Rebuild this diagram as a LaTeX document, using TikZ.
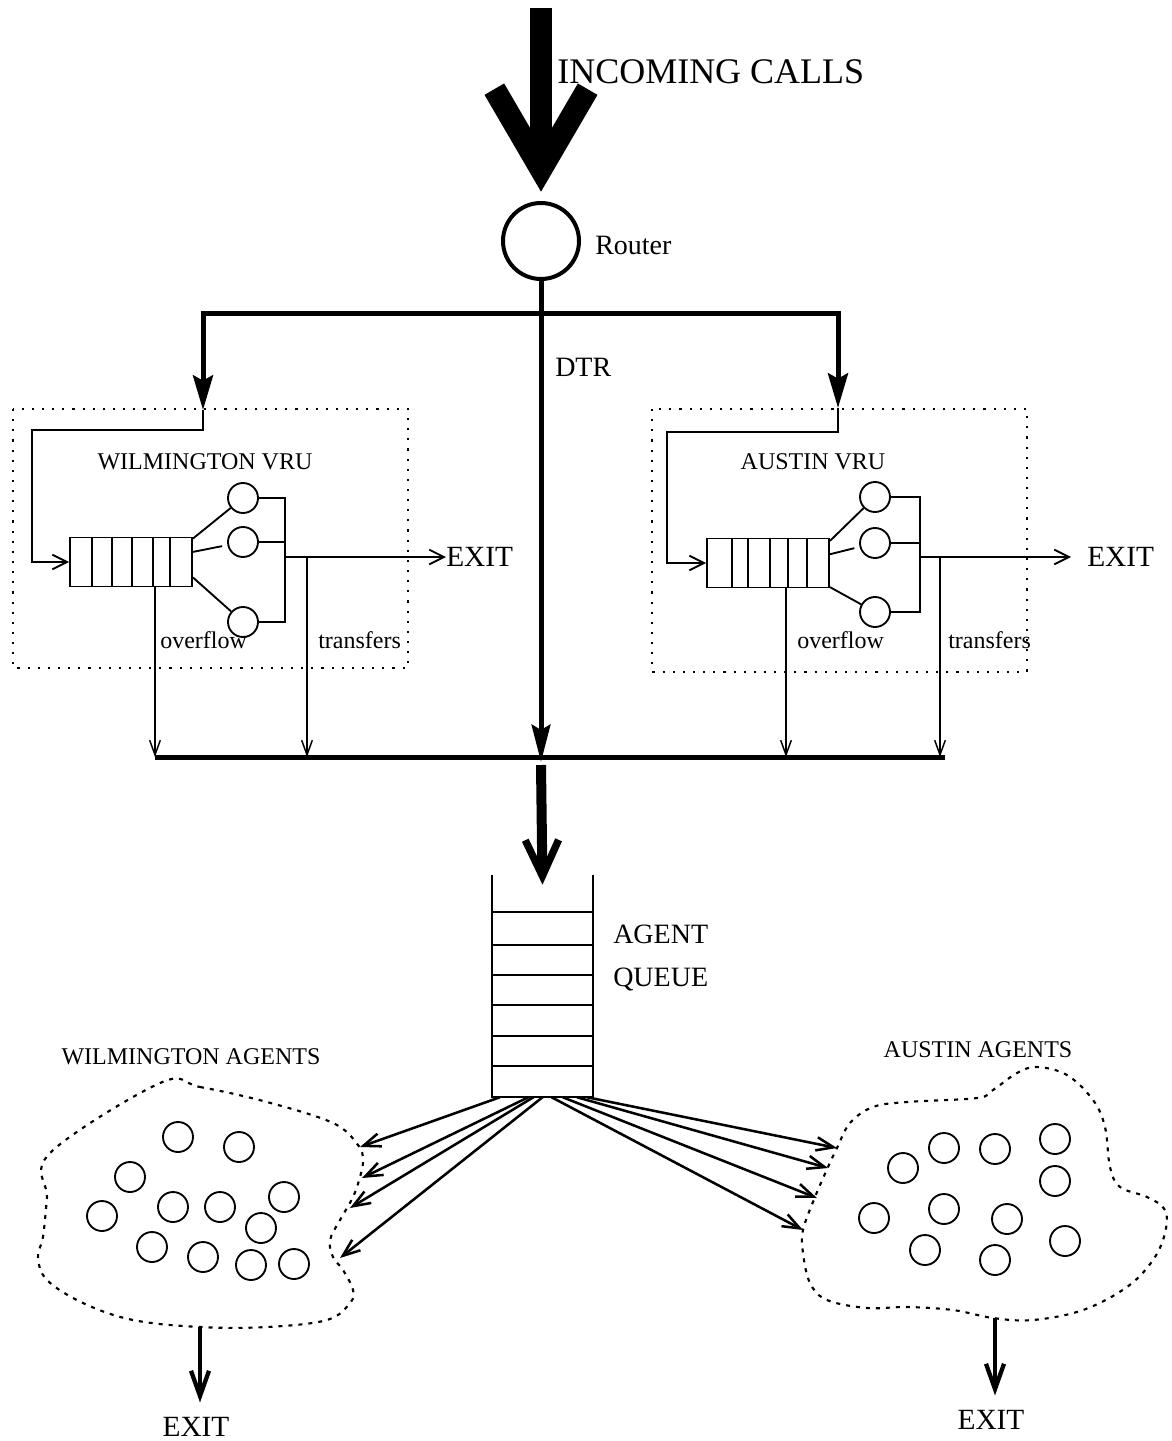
\documentclass[tikz,border=0pt]{standalone}
\usepackage{fontspec}
\setmainfont{Liberation Serif}
\usetikzlibrary{arrows.meta,calc,positioning}

\begin{document}
\begin{tikzpicture}[x=0.75pt,y=0.75pt,yscale=-1,
    thinline/.style={line width=1.4pt},
    heavy/.style={line width=3.75pt},
    server/.style={circle,draw,line width=1.4pt,minimum size=22.5pt,inner sep=0pt},
    agent/.style={circle,draw,line width=1.4pt,minimum size=22.5pt,inner sep=0pt},
    vruqueue/.style={rectangle,draw,line width=1.4pt,minimum width=91.5pt,minimum height=36.75pt,inner sep=0pt},
    vrubox/.style={line width=1.6pt,dash pattern=on 1.6pt off 6pt},
    blob/.style={line width=1.6pt,dash pattern=on 3pt off 4.5pt},
    barb/.style={thinline,-{Straight Barb[length=11pt,width=11pt]}},
    fan/.style={line width=1.9pt,-{Straight Barb[length=13pt,width=10pt]}},
    feed/.style={line width=1.1pt,-{Straight Barb[length=11pt,width=8pt]}},
    branch/.style={heavy,-{Stealth[length=26pt,width=15pt,inset=4pt]}},
    bigarrow/.style={line width=16.5pt,-{Straight Barb[length=60pt,width=70pt,line width=17pt]}},
    midarrow/.style={line width=7.5pt,-{Straight Barb[length=27pt,width=25pt,line width=5.5pt]}},
    exitarrow/.style={line width=3.2pt,-{Straight Barb[length=19pt,width=13.5pt,line width=3.2pt]}},
    bigtext/.style={font=\fontsize{27}{30}\selectfont,inner sep=0pt},
    midtext/.style={font=\fontsize{21}{25}\selectfont,inner sep=0pt},
    exittext/.style={font=\fontsize{22}{26}\selectfont,inner sep=0pt},
    smalltext/.style={font=\fontsize{18}{21}\selectfont,inner sep=0pt}]
    \useasboundingbox (0,0) rectangle (1171,1441);

    % router and incoming calls
    \coordinate (callsrc) at (541,8);
    \node[circle,draw,line width=3pt,minimum size=57pt,inner sep=0pt] (router) at (541,241) {};
    \node[bigtext,anchor=west] (calls) at (557,72) {INCOMING CALLS};
    \node[midtext,anchor=west] (routerlbl) at (595,245) {Router};
    \draw[bigarrow,shorten >=7pt] (callsrc) -- (router);

    \coordinate (split) at (541,313);
    \coordinate (wilin) at (203,410);
    \coordinate (ausin) at (838,408);
    \draw[branch] (split) -| (wilin);
    \draw[branch] (split) -| (ausin);
    \coordinate (dtrend) at (541,762);
    \draw[heavy,-{Stealth[length=28pt,width=14pt,inset=4pt]}] (router) -- (dtrend);
    \node[midtext,anchor=west] (dtr) at (555,367) {DTR};

    % collecting bar
    \coordinate (barL) at (155,757);
    \coordinate (barR) at (945,757);
    \draw[heavy] (barL) -- (barR);

    % wilmington vru
    \draw[vrubox] (13,409) rectangle (408,668);
    \node[smalltext] (wilvru) at (205,462) {WILMINGTON VRU};
    \node[vruqueue] (wq) at (131,562) {};
    \foreach \x in {92,112,132,153,170}
        \draw[thinline] (\x,0 |- wq.north) -- (\x,0 |- wq.south);
    \node[server] (ws1) at (243,498) {};
    \node[server] (ws2) at (243,542) {};
    \node[server] (ws3) at (243,622) {};
    \draw[thinline] ([yshift=1.5pt]wq.north east) -- (ws1);
    \draw[thinline,shorten >=4pt] ([yshift=11.5pt]wq.north east) -- (ws2);
    \draw[thinline] ([yshift=-7.5pt]wq.south east) -- (ws3);
    \coordinate (wb) at (285,557);
    \draw[thinline] (ws1.east) -| (wb) |- (ws3.east);
    \draw[thinline] (ws2.east) -- (ws2.east -| wb);
    \node[exittext,anchor=west] (wexit) at (446,557) {EXIT};
    \draw[barb] (wb) -- (wexit.west);
    \coordinate (wloop) at (32,430);
    \draw[barb] (wilin) |- (wloop) |- (wq.west);
    \coordinate (wt) at (307,557);
    \draw[feed] (wt) -- (wt |- barL);
    \draw[feed] (wq.south -| barL) -- (barL);
    \node[smalltext,anchor=west] (wovf) at (160,640) {overflow};
    \node[smalltext,anchor=west] (wtrf) at (318,640) {transfers};

    % austin vru
    \draw[vrubox] (652,409) rectangle (1027,672);
    \node[smalltext] (ausvru) at (813,462) {AUSTIN VRU};
    \node[vruqueue] (aq) at (768,563) {};
    \foreach \x in {732,748,770,788,807}
        \draw[thinline] (\x,0 |- aq.north) -- (\x,0 |- aq.south);
    \node[server] (as1) at (875,497) {};
    \node[server] (as2) at (875,543) {};
    \node[server] (as3) at (875,612) {};
    \draw[thinline] ([yshift=2.5pt]aq.north east) -- (as1);
    \draw[thinline,shorten >=4pt] ([yshift=12.5pt]aq.north east) -- (as2);
    \draw[thinline] ([yshift=-1pt]aq.south east) -- (as3);
    \coordinate (ab) at (920,557);
    \draw[thinline] (as1.east) -| (ab) |- (as3.east);
    \draw[thinline] (as2.east) -- (as2.east -| ab);
    \node[exittext,anchor=west] (aexit) at (1087,557) {EXIT};
    \draw[barb,shorten >=12pt] (ab) -- (aexit.west);
    \coordinate (aloop) at (667,432);
    \draw[barb] (ausin) |- (aloop) |- (aq.west);
    \coordinate (at) at (940,557);
    \draw[feed] (at) -- (at |- barR);
    \coordinate (aovf) at (786,757);
    \draw[feed] (aq.south -| aovf) -- (aovf);
    \node[smalltext,anchor=west] (aovfl) at (797,640) {overflow};
    \node[smalltext,anchor=west] (atrf) at (948,640) {transfers};

    % agent queue
    \node[minimum width=75.75pt,minimum height=166.5pt,inner sep=0pt] (agentq) at (542.5,986) {};
    \draw[thinline] (agentq.north west) -- (agentq.south west) -- (agentq.south east) -- (agentq.north east);
    \foreach \y in {912,945,975,1005,1036,1066}
        \draw[thinline] (agentq.west |- 0,\y) -- (agentq.east |- 0,\y);
    \node[anchor=west,align=left,inner sep=0pt,font=\fontsize{21}{32}\selectfont] (aqlbl) at (613,958) {AGENT\\QUEUE};
    \coordinate (qin) at (541,765);
    \draw[midarrow] (qin) -- ([yshift=7.5pt]agentq.north);

    % agent pools
    \node[smalltext] (wilag) at (191,1057) {WILMINGTON AGENTS};
    \node[smalltext] (ausag) at (978,1050) {AUSTIN AGENTS};
    \draw[blob] plot[smooth cycle,tension=0.6] coordinates {(160,1083) (200,1087) (267,1102) (333,1123) (358,1145) (363,1160) (360,1177) (353,1197) (340,1220) (330,1240) (333,1257) (343,1270) (353,1290) (350,1303) (327,1320) (267,1327) (200,1327) (133,1320) (83,1303) (47,1280) (38,1257) (43,1237) (47,1197) (50,1153)};
    \draw[blob] plot[smooth cycle,tension=0.6] coordinates {(837,1148) (850,1123) (873,1107) (907,1102) (977,1098) (993,1090) (1017,1073) (1037,1067) (1067,1075) (1093,1100) (1105,1127) (1110,1167) (1120,1187) (1147,1197) (1165,1210) (1165,1233) (1153,1260) (1127,1287) (1083,1310) (1033,1320) (993,1318) (953,1310) (907,1307) (867,1308) (827,1300) (810,1283) (803,1253) (803,1230) (815,1197) (828,1167)};
    \foreach \p [count=\i] in {(178,1137),(239,1147),(130,1177),(102,1216),(173,1207),(220,1207),(284,1197),(261,1228),(152,1247),(203,1257),(251,1265),(294,1264)}
        \node[agent] (wag\i) at \p {};
    \foreach \p [count=\i] in {(903,1168),(944,1148),(995,1149),(1055,1139),(1055,1181),(874,1218),(944,1209),(1007,1219),(1065,1241),(925,1250),(995,1260)}
        \node[agent] (aag\i) at \p {};

    \coordinate (wa1) at (360,1147);
    \coordinate (wa2) at (362,1178);
    \coordinate (wa3) at (350,1208);
    \coordinate (wa4) at (340,1258);
    \coordinate (aa1) at (837,1148);
    \coordinate (aa2) at (828,1168);
    \coordinate (aa3) at (817,1198);
    \coordinate (aa4) at (803,1230);
    \foreach \f/\t in {0.08/wa1,0.36/wa2,0.41/wa3,0.5/wa4,0.94/aa1,0.84/aa2,0.70/aa3,0.59/aa4}
        \draw[fan] ($(agentq.south west)!\f!(agentq.south east)$) -- (\t);

    % exits
    \coordinate (wout) at (200,1327);
    \node[exittext] (wexit2) at (196,1427) {EXIT};
    \draw[exitarrow,shorten >=11pt] (wout) -- (wout |- wexit2.north);
    \coordinate (aout) at (995,1318);
    \node[exittext] (aexit2) at (991,1420) {EXIT};
    \draw[exitarrow,shorten >=11pt] (aout) -- (aout |- aexit2.north);
\end{tikzpicture}
\end{document}
